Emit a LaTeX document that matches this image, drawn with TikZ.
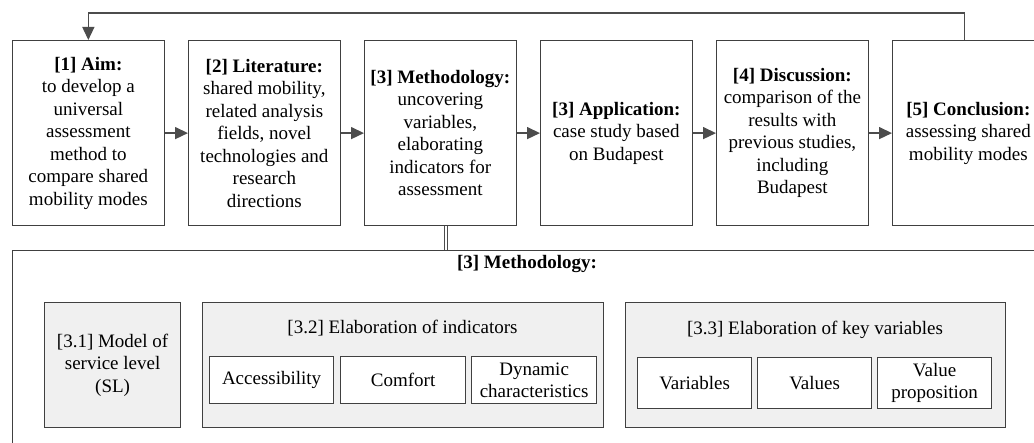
\documentclass[tikz,border=0pt]{standalone}
\usepackage{fontspec}
\setmainfont{Liberation Serif}
\usetikzlibrary{arrows.meta,positioning,calc}
\tikzset{
	stage/.style={draw=black!75, line width=1.2pt, fill=white, minimum width=151.5pt,
			minimum height=185pt, align=center, inner sep=2pt},
	part/.style={draw=black!75, line width=1.2pt, fill=black!6, align=center},
	item/.style={draw=black!75, line width=1.2pt, fill=white, align=center, inner sep=1pt},
	flow/.style={->, draw=black!70, line width=1.5pt}
}

\begin{document}
\begin{tikzpicture}[x=1pt, y=-1pt, >={Triangle[length=13pt,width=12pt]},
		font=\fontsize{19}{22.5}\selectfont]
	\useasboundingbox (0,0) rectangle (1034,443);
	\clip (0,0) rectangle (1034,443);

	% Main stages of the study
	\node[stage, anchor=north west] (aim) at (12,40)
	{\textbf{[1] Aim:}\\to develop a\\universal\\assessment\\method to\\compare shared\\mobility modes};
	\node[stage, right=23.3pt of aim] (lit)
	{\textbf{[2] Literature:}\\shared mobility,\\related analysis\\fields, novel\\technologies and\\research\\directions};
	\node[stage, right=23.3pt of lit] (meth)
	{\textbf{[3] Methodology:}\\uncovering\\variables,\\elaborating\\indicators for\\assessment};
	\node[stage, right=23.3pt of meth] (appl)
	{\textbf{[3] Application:}\\case study based\\on Budapest};
	\node[stage, right=23.3pt of appl] (disc)
	{\textbf{[4] Discussion:}\\comparison of the\\results with\\previous studies,\\including\\Budapest};
	\node[stage, right=23.3pt of disc] (concl)
	{\textbf{[5] Conclusion:}\\assessing shared\\mobility modes};

	\draw[flow] (aim) -- (lit);
	\draw[flow] (lit) -- (meth);
	\draw[flow] (meth) -- (appl);
	\draw[flow] (appl) -- (disc);
	\draw[flow] (disc) -- (concl);

	% Feedback from conclusion to aim
	\draw[flow, line width=1.2pt] ([xshift=-4pt]concl.north) -- ++(0,-27) -| (aim.north);

	% Methodology in detail
	\node[draw=black!75, line width=1.2pt, minimum width=1030pt, minimum height=210pt,
		anchor=north west] (methbox) at (12,250) {};
	\node[font=\fontsize{19}{22.5}\selectfont\bfseries] (methtitle) at (527,264) {[3] Methodology:};
	\draw[double=white, double distance=2.2pt, draw=black!70, line width=0.8pt]
	([xshift=6pt]meth.south) -- ([xshift=6pt]meth.south |- methbox.north);

	\node[part, minimum width=136pt, minimum height=125pt, anchor=north west] (sl) at (44,302)
	{[3.1] Model of\\service level\\(SL)};

	\node[part, minimum width=401pt, minimum height=125pt, anchor=north west] (ind) at (202,302) {};
	\node (indtitle) at (402.5,328) {[3.2] Elaboration of indicators};
	\node[item, minimum width=124pt, minimum height=47pt, anchor=north west] (acc) at (209,356) {Accessibility};
	\node[item, minimum width=125pt, minimum height=47pt, right=5.8pt of acc] (comf) {Comfort};
	\node[item, minimum width=125pt, minimum height=47pt, right=4.8pt of comf] (dyn) {Dynamic\\characteristics};

	\node[part, minimum width=380pt, minimum height=125pt, anchor=north west] (keyvar) at (625,302) {};
	\node (keytitle) at (815,330) {[3.3] Elaboration of key variables};
	\node[item, minimum width=114pt, minimum height=51pt, anchor=north west] (vars) at (637,357) {Variables};
	\node[item, minimum width=114pt, minimum height=51pt, right=4.8pt of vars] (vals) {Values};
	\node[item, minimum width=114pt, minimum height=51pt, right=4.8pt of vals] (prop) {Value\\proposition};
\end{tikzpicture}
\end{document}
